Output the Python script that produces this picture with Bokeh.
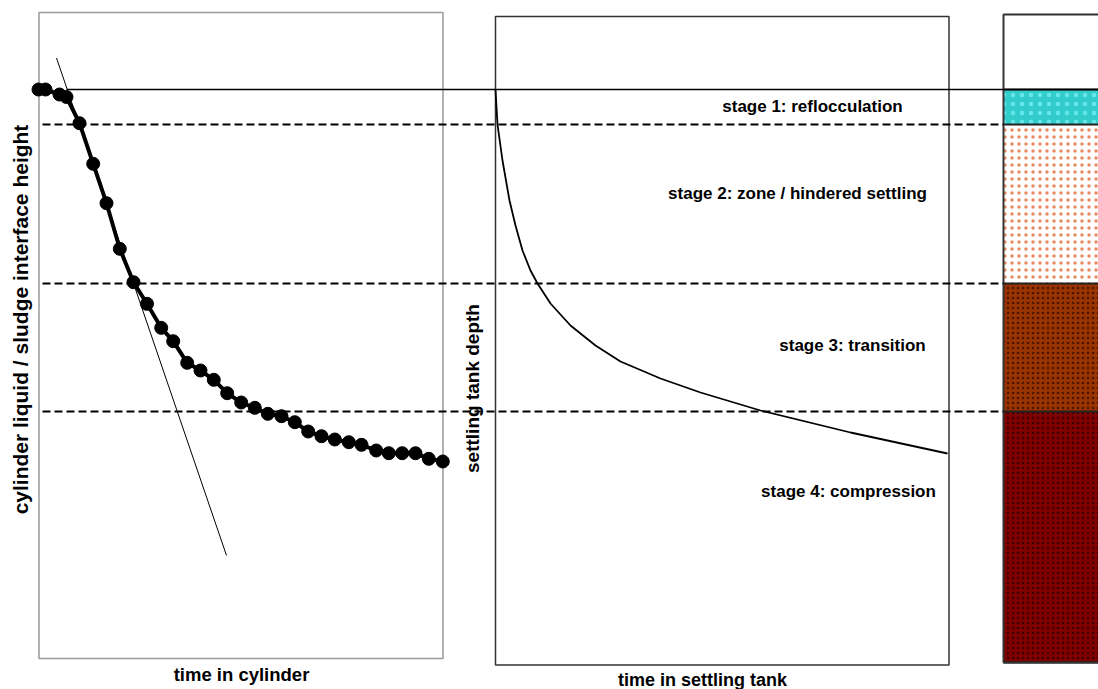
import math
from bokeh.plotting import figure
from bokeh.models import Range1d
from bokeh.core.properties import value
from bokeh.embed import file_html
from bokeh.resources import INLINE

# ---- data (diagram coordinates: x = time, y = depth, downward) ----
cyl_t = [38, 45, 59, 66, 79, 92.7, 106, 119.3, 133, 146.5, 160.7, 172.7, 186.7, 200, 213.3,
         226.7, 240.7, 254.3, 267.3, 281, 294.3, 307.7, 321, 334.3, 348.3, 361, 375.7,
         388.3, 401.7, 415, 428.3, 442.3]
cyl_h = [89, 89, 94, 96.5, 122.7, 163.3, 202.7, 248.3, 281.7, 303.3, 327.3, 340.7, 362.3,
         370, 379.3, 392.7, 402, 407.3, 413.3, 415.7, 421.7, 431, 435.7, 439, 441.7,
         444.3, 450, 452.7, 452.7, 452.7, 458.3, 461]
tangent_t = [56, 226]
tangent_h = [57.5, 555]

tank_t = [495, 497, 502, 509, 515, 522, 530, 537, 550, 570, 595, 620, 660, 700, 760, 850, 947]
tank_h = [89, 124, 160, 200, 225, 250, 270, 283, 303, 325, 345, 361, 378, 392, 410, 432, 453]

stage_bounds = [89, 124, 283, 411, 662]
stage_labels = ["stage 1: reflocculation", "stage 2: zone / hindered settling",
                "stage 3: transition", "stage 4: compression"]
stage_label_x = [812, 797, 852, 848]
stage_label_y = [106, 193, 345, 491]
stage_fill = ["#33CCCC", "#FFFFFF", "#993300", "#800000"]
stage_hatch_color = ["#66E8E8", "#E88A60", "#4A1500", "#3A0000"]

FONT = value("Liberation Sans")

p = figure(width=1098, height=689, output_backend="svg", toolbar_location=None,
           x_range=Range1d(0, 1098), y_range=Range1d(689, 0),
           min_border=0, min_border_left=0, min_border_right=0,
           min_border_top=0, min_border_bottom=0)
p.axis.visible = False
p.grid.visible = False
p.outline_line_color = None
p.background_fill_color = "white"
p.border_fill_color = "white"

# right column: stage bands
p.quad(left=[1003] * 4, right=[1100] * 4, top=stage_bounds[:-1], bottom=stage_bounds[1:],
       fill_color=stage_fill, line_color=None,
       hatch_pattern=".", hatch_color=stage_hatch_color, hatch_scale=[9, 7, 5, 5],
       hatch_weight=1.0)
p.segment(x0=[1003] * 4, x1=[1100] * 4, y0=stage_bounds[:-1], y1=stage_bounds[:-1],
          line_color="#222222", line_width=2)
p.segment(x0=[1003], x1=[1100], y0=[stage_bounds[-1]], y1=[stage_bounds[-1]],
          line_color="#111111", line_width=2)

# panel boxes
p.quad(left=[38.5], right=[442.5], top=[12], bottom=[658], fill_alpha=0,
       line_color="#999999", line_width=1.5)
p.quad(left=[495], right=[948.5], top=[16], bottom=[664.5], fill_alpha=0,
       line_color="#333333", line_width=1.5)
p.quad(left=[1003], right=[1100], top=[14], bottom=[662], fill_alpha=0,
       line_color="#333333", line_width=2)

# horizontal stage boundaries
p.segment(x0=[66], x1=[1100], y0=[stage_bounds[0]], y1=[stage_bounds[0]],
          line_color="black", line_width=1.5)
p.segment(x0=[42] * 3, x1=[1003] * 3, y0=stage_bounds[1:4], y1=stage_bounds[1:4],
          line_color="black", line_width=2, line_dash="8 4")

# cylinder curve
p.line(tangent_t, tangent_h, line_color="black", line_width=1)
p.line(cyl_t, cyl_h, line_color="black", line_width=4)
p.scatter(cyl_t, cyl_h, size=13, fill_color="black", line_color="black")

# settling tank curve
p.line(tank_t, tank_h, line_color="black", line_width=1.8)

# stage labels
p.text(x=stage_label_x, y=stage_label_y, text=stage_labels, text_font=FONT,
       text_font_style="bold", text_font_size="17px", text_align="center",
       text_baseline="middle", text_color="black")

# axis titles
p.text(x=[241], y=[674], text=["time in cylinder"], text_font=FONT,
       text_font_style="bold", text_font_size="18.5px", text_align="center",
       text_baseline="middle")
p.text(x=[702], y=[679], text=["time in settling tank"], text_font=FONT,
       text_font_style="bold", text_font_size="18px", text_align="center",
       text_baseline="middle")
p.text(x=[20], y=[319], text=["cylinder liquid / sludge interface height"], text_font=FONT,
       text_font_style="bold", text_font_size="21px", text_align="center",
       text_baseline="middle", angle=math.pi / 2)
p.text(x=[472], y=[388], text=["settling tank depth"], text_font=FONT,
       text_font_style="bold", text_font_size="19px", text_align="center",
       text_baseline="middle", angle=math.pi / 2)

open("out.html", "w").write(file_html(p, INLINE))
